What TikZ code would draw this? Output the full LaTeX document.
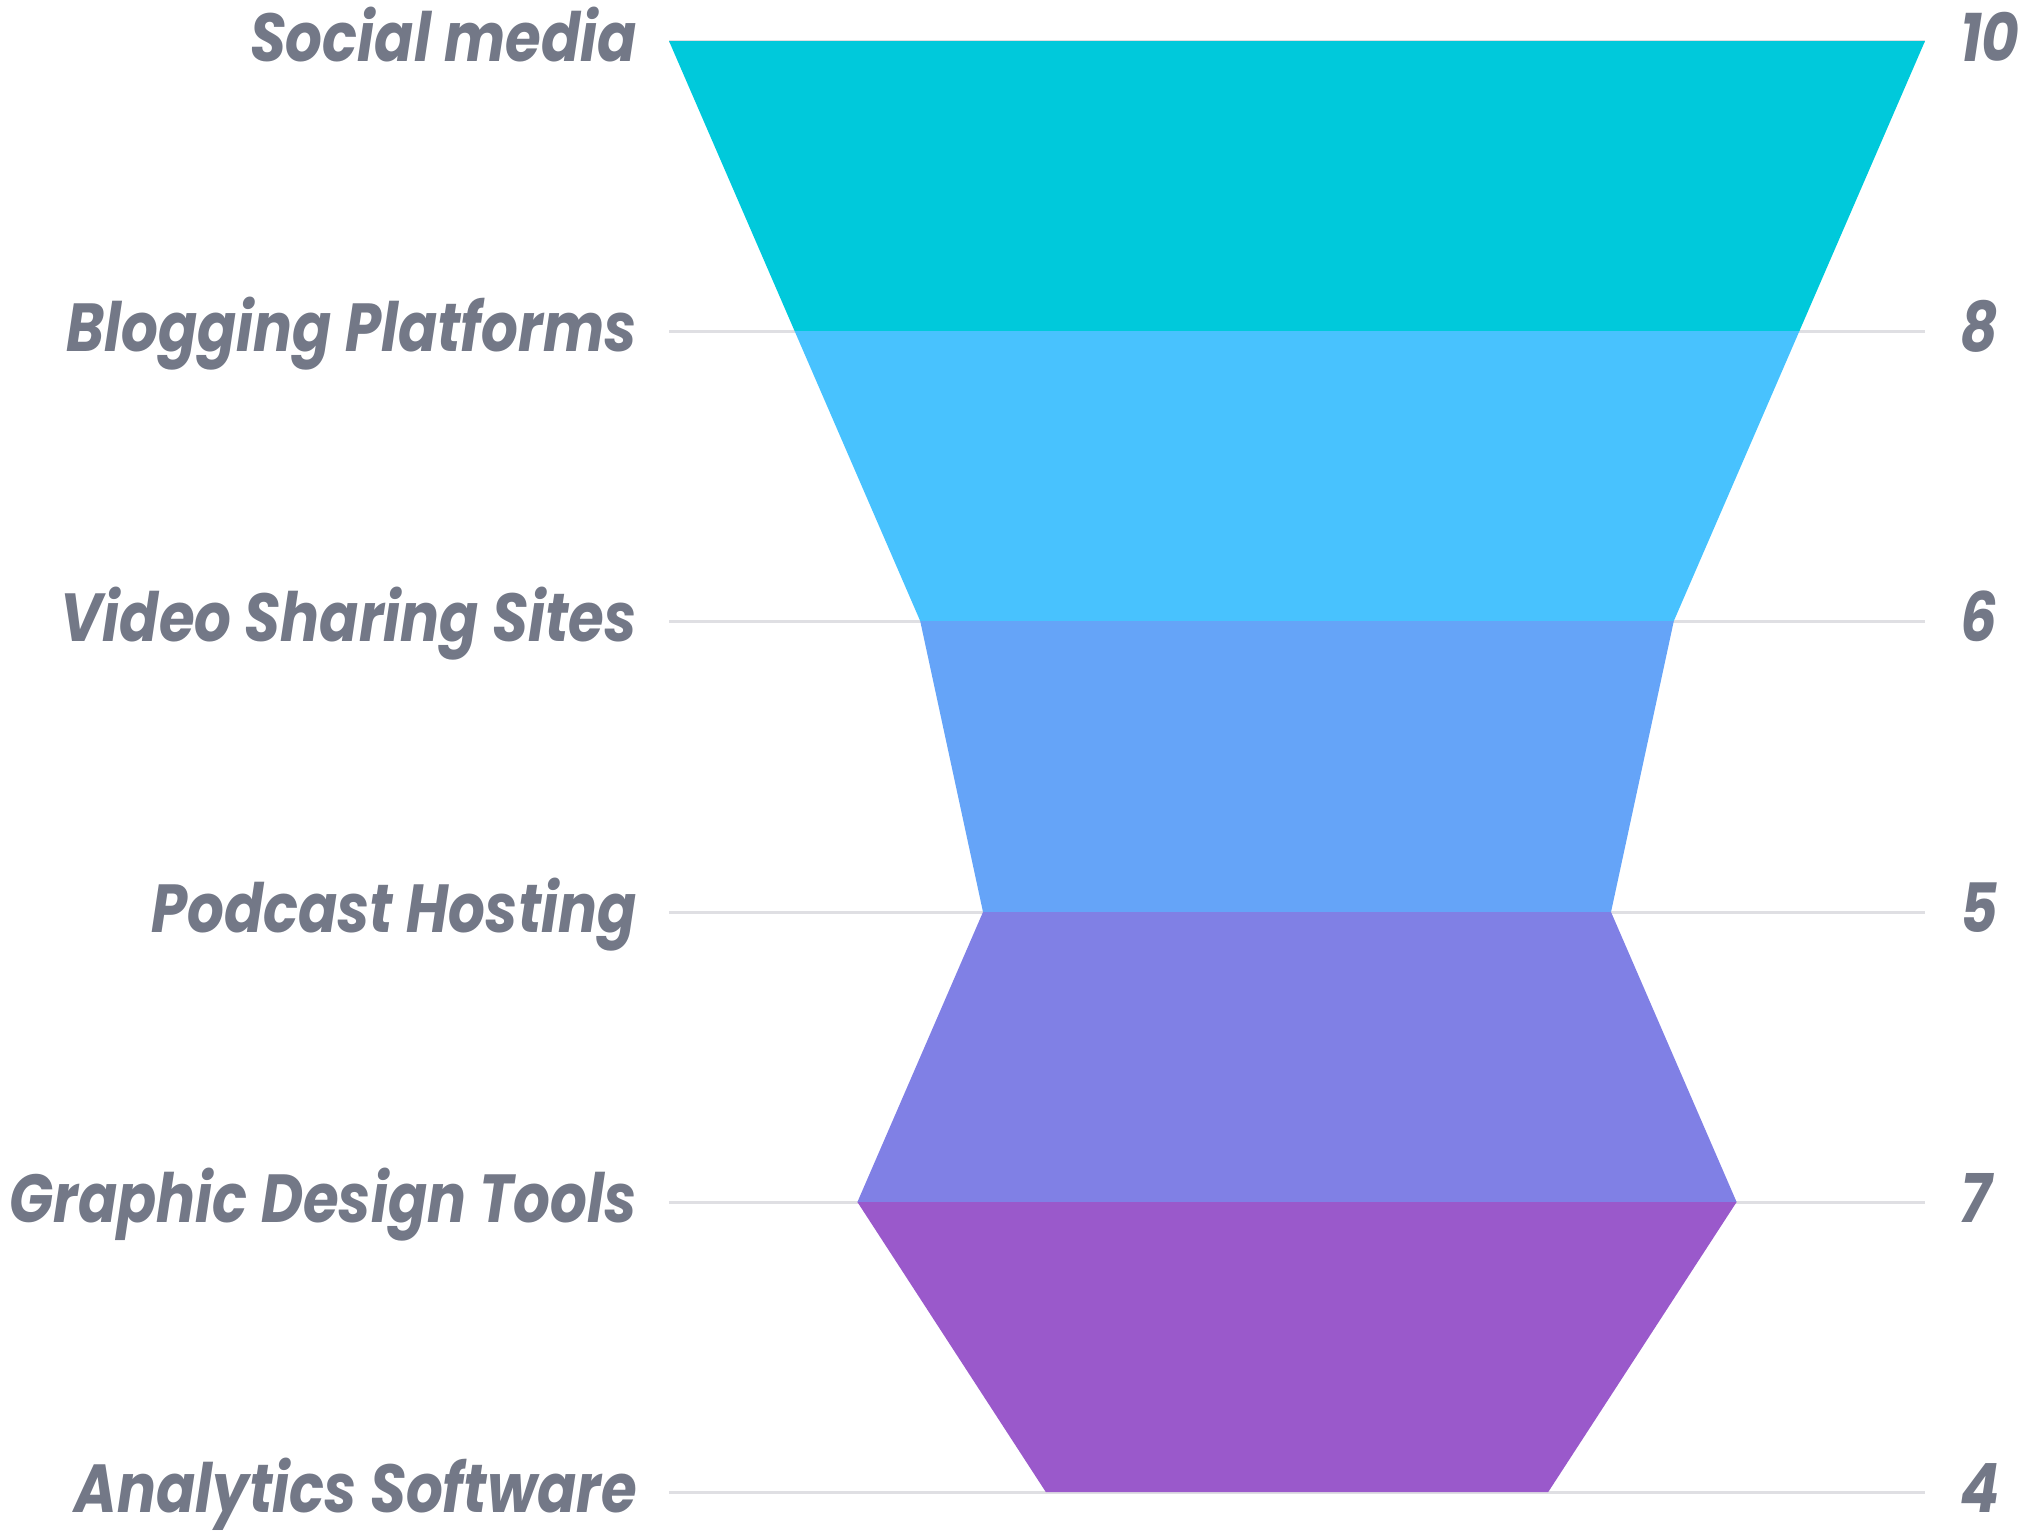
\documentclass[tikz,border=0pt]{standalone}
\usepackage{fontspec}
\newfontfamily\rotulo{Poppins Bold Italic}[FakeStretch=0.85]
\definecolor{gris}{HTML}{737887}
\definecolor{linea}{HTML}{DFDFE3}
\definecolor{cian}{HTML}{00C9DB}
\definecolor{celeste}{HTML}{48C2FE}
\definecolor{azul}{HTML}{65A4F8}
\definecolor{lila}{HTML}{8080E5}
\definecolor{morado}{HTML}{9A59CB}
\begin{document}
\begin{tikzpicture}[x=1pt,y=-1pt,
    etiqueta/.style={anchor=base east,inner sep=0pt,text=gris,font=\rotulo\fontsize{68}{68}\selectfont},
    valor/.style={anchor=base west,inner sep=0pt,text=gris,font=\rotulo\fontsize{68}{68}\selectfont},
    guia/.style={line width=3pt,color=linea}]
        \useasboundingbox (0,0) rectangle (2025,1531);
        % Lineas guia
        \draw[guia] (669,41) -- (1925,41);
        \draw[guia] (669,331) -- (1925,331);
        \draw[guia] (669,621) -- (1925,621);
        \draw[guia] (669,912) -- (1925,912);
        \draw[guia] (669,1202) -- (1925,1202);
        \draw[guia] (669,1492) -- (1925,1492);
        % Embudo
        \fill[cian] (669,41) -- (1925,41) -- (1799.4,331) -- (794.6,331) -- cycle;
        \fill[celeste] (794.6,331) -- (1799.4,331) -- (1673.8,621) -- (920.2,621) -- cycle;
        \fill[azul] (920.2,621) -- (1673.8,621) -- (1611,912) -- (983,912) -- cycle;
        \fill[lila] (983,912) -- (1611,912) -- (1736.6,1202) -- (857.4,1202) -- cycle;
        \fill[morado] (857.4,1202) -- (1736.6,1202) -- (1548.2,1492) -- (1045.8,1492) -- cycle;
        % Etiquetas
        \node[etiqueta] (social) at (637,61) {Social media};
        \node[etiqueta] (blogs) at (637,351) {Blogging Platforms};
        \node[etiqueta] (video) at (637,641) {Video Sharing Sites};
        \node[etiqueta] (podcast) at (637,932) {Podcast Hosting};
        \node[etiqueta] (grafico) at (637,1222) {Graphic Design Tools};
        \node[etiqueta] (analitica) at (637,1512) {Analytics Software};
        % Valores
        \node[valor] (v-social) at (1960,61) {10};
        \node[valor] (v-blogs) at (1960,351) {8};
        \node[valor] (v-video) at (1960,641) {6};
        \node[valor] (v-podcast) at (1960,932) {5};
        \node[valor] (v-grafico) at (1960,1222) {7};
        \node[valor] (v-analitica) at (1960,1512) {4};
    \end{tikzpicture}
\end{document}
